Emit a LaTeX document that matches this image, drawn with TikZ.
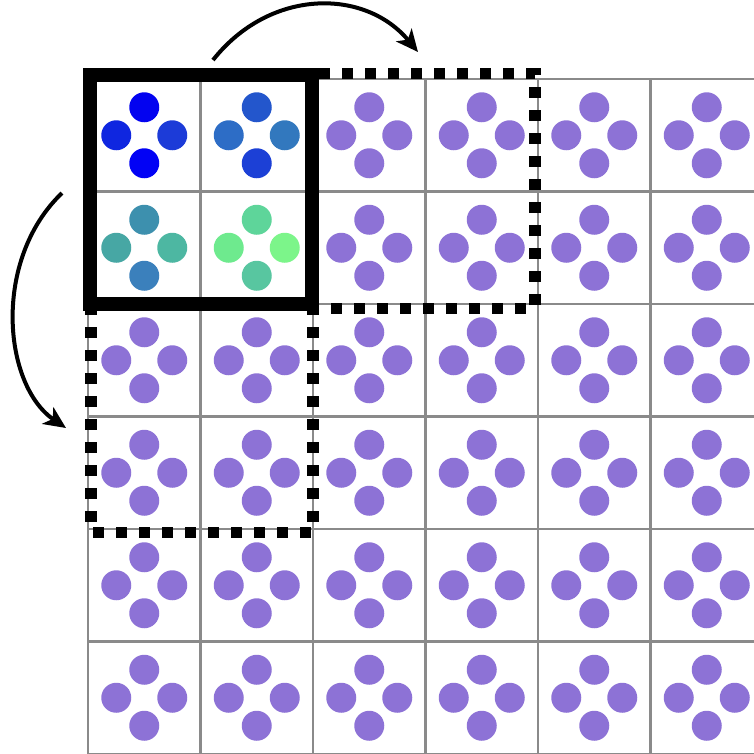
\documentclass[tikz,border=0pt]{standalone}
\usepackage{tikz}
\usetikzlibrary{arrows.meta,positioning,calc}
\definecolor{gridgray}{HTML}{8A8A8A}
\definecolor{spotpurple}{HTML}{8D72D6}
% top-left block, one colour per spot
\definecolor{aT}{HTML}{0303F0}
\definecolor{aL}{HTML}{0F26E0}
\definecolor{aR}{HTML}{1C3BD8}
\definecolor{aB}{HTML}{0202F5}
\definecolor{bT}{HTML}{2356CC}
\definecolor{bL}{HTML}{2D6DC6}
\definecolor{bR}{HTML}{3278BE}
\definecolor{bB}{HTML}{1C40D6}
\definecolor{cT}{HTML}{3D90AE}
\definecolor{cL}{HTML}{47A7A4}
\definecolor{cR}{HTML}{4DB7A2}
\definecolor{cB}{HTML}{3B80BC}
\definecolor{dT}{HTML}{5ED59A}
\definecolor{dL}{HTML}{6EEA8E}
\definecolor{dR}{HTML}{7CF58A}
\definecolor{dB}{HTML}{58C6A0}

% four spots in a cell: node, top, left, right, bottom
\newcommand{\cellspots}[5]{%
  \fill[#2] (#1) ++(0,-28) circle[radius=15];
  \fill[#3] (#1) ++(-28,0) circle[radius=15];
  \fill[#4] (#1) ++(28,0) circle[radius=15];
  \fill[#5] (#1) ++(0,28) circle[radius=15];
}

\begin{document}
\begin{tikzpicture}[
  x=0.01cm, y=-0.01cm,
  cell/.style={draw=gridgray, line width=0.028cm, fill=white,
    minimum size=1.125cm, inner sep=0pt, outer sep=0pt},
  blockframe/.style={line width=0.135cm, black},
  nextframe/.style={line width=0.11cm, black, dash pattern=on 0.11cm off 0.12cm},
  arr/.style={-{Stealth[length=2.2mm, width=2mm, inset=0.6mm]}, line width=0.04cm, black},
]
\useasboundingbox (0,0) rectangle (754,753);
\begin{scope}
\clip (0,0) rectangle (754,753);
\foreach \r in {1,...,6}
  \foreach \c in {1,...,6}
    \node[cell] (c\r\c) at ({88+112.5*(\c-0.5)},{79+112.5*(\r-0.5)}) {};

\foreach \r in {1,...,6}
  \foreach \c in {1,...,6} {
    \pgfmathtruncatemacro\inblock{and(\r<3,\c<3)}
    \ifnum\inblock=0
      \cellspots{c\r\c}{spotpurple}{spotpurple}{spotpurple}{spotpurple}
    \fi
  }
\end{scope}

\cellspots{c11}{aT}{aL}{aR}{aB}
\cellspots{c12}{bT}{bL}{bR}{bB}
\cellspots{c21}{cT}{cL}{cR}{cB}
\cellspots{c22}{dT}{dL}{dR}{dB}

% shifted windows
\draw[nextframe] (313,73) rectangle (535,308);
\draw[nextframe] (91,304) rectangle (313,532);
\draw[blockframe] (90,75) rectangle (312,304);

\coordinate (rstart) at (213,60);
\coordinate (rend) at (418,52);
\coordinate (dstart) at (62,193);
\coordinate (dend) at (66,428);
\draw[arr] (rstart) .. controls (270,-12) and (365,-12) .. (rend);
\draw[arr] (dstart) .. controls (-8,260) and (3,385) .. (dend);
\end{tikzpicture}
\end{document}
